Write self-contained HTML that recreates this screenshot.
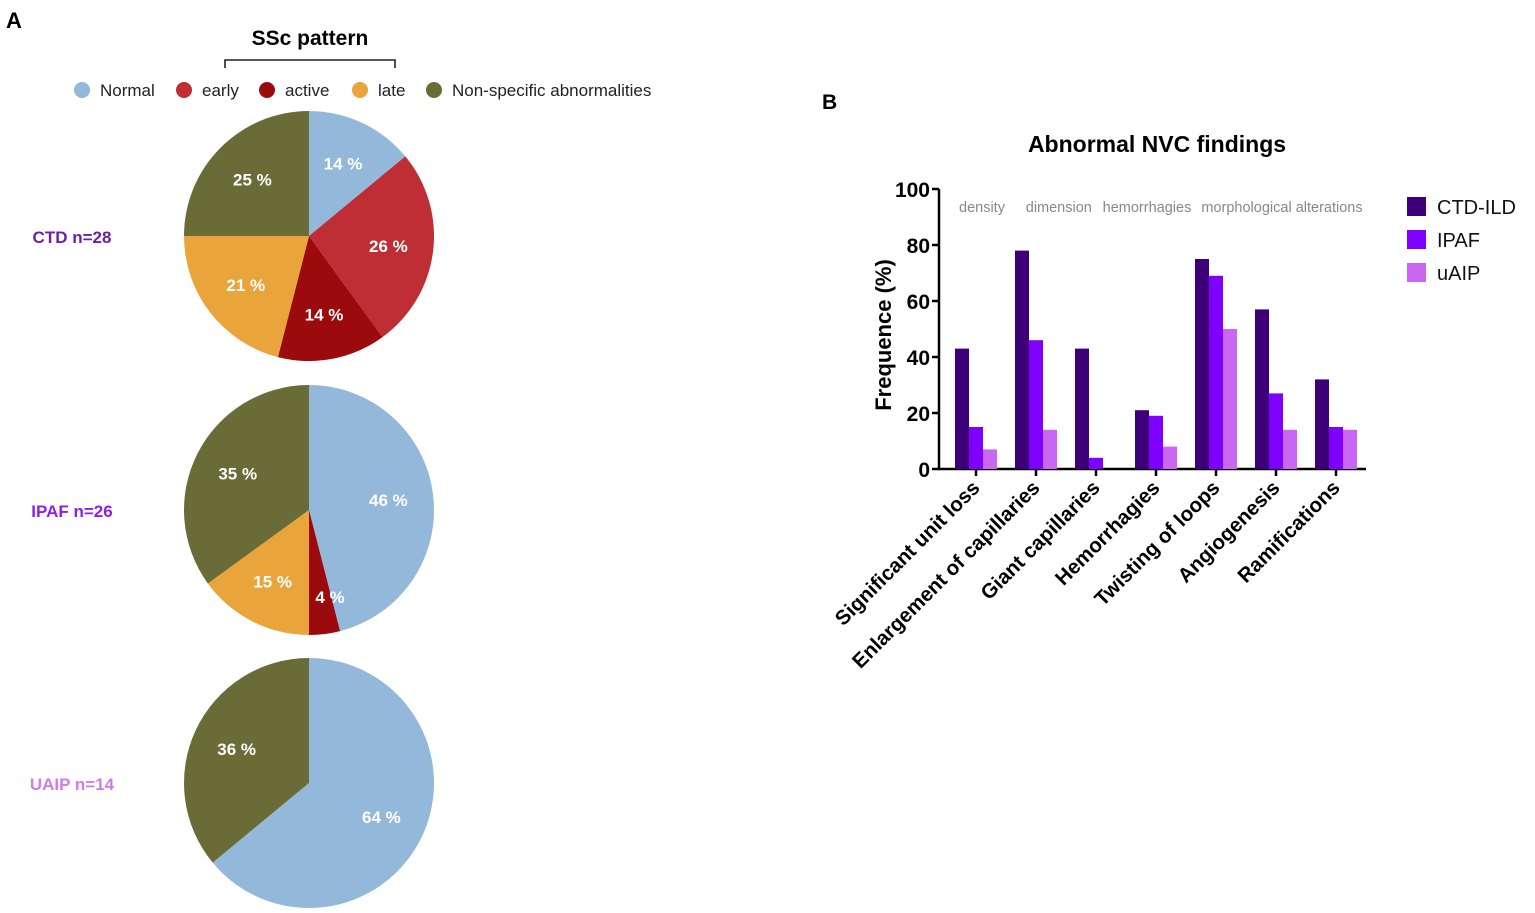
<!DOCTYPE html>
<html><head><meta charset="utf-8"><style>
html,body{margin:0;padding:0;background:#fff;}
svg{display:block;font-family:"Liberation Sans",Arial,sans-serif;}
</style></head><body>
<svg id="fig" width="1535" height="913" viewBox="0 0 1535 913">
<text x="6" y="28" font-size="22" font-weight="bold">A</text>
<text x="310" y="45" font-size="21" font-weight="bold" text-anchor="middle">SSc pattern</text>
<path d="M225,68 V60 H395 V68" fill="none" stroke="#222" stroke-width="1.6"/>
<g id="pieLegend"></g>
<g id="pies"></g>
<text x="822" y="109" font-size="21" font-weight="bold">B</text>
<text x="1157" y="152" font-size="23" font-weight="bold" text-anchor="middle">Abnormal NVC findings</text>
<g id="bars"></g>
</svg>
<script>
const NS="http://www.w3.org/2000/svg";
function mk(tag,attrs,parent,text){const e=document.createElementNS(NS,tag);for(const k in attrs)e.setAttribute(k,attrs[k]);if(text!==undefined)e.textContent=text;parent.appendChild(e);return e;}

// Pie data
const pieCategories=["Normal","early","active","late","Non-specific abnormalities"];
const pieColors=["#93b8d9","#bf2e34","#9b0b0d","#e9a43c","#6a6c38"];
const pieGroups=["CTD n=28","IPAF n=26","UAIP n=14"];
const pieGroupColors=["#6a1fb0","#8a1ff0","#d27ae8"];
const ctdValues=[14,26,14,21,25];
const ipafValues=[46,0,4,15,35];
const uaipValues=[64,0,0,0,36];
const pieSeries=[ctdValues,ipafValues,uaipValues];

// Bar data
const barCategories=["Significant unit loss","Enlargement of capillaries","Giant capillaries","Hemorrhagies","Twisting of loops","Angiogenesis","Ramifications"];
const seriesNames=["CTD-ILD","IPAF","uAIP"];
const seriesColors=["#3e0078","#8000ff","#c966f2"];
const ctdIld=[43,78,43,21,75,57,32];
const ipaf=[15,46,4,19,69,27,15];
const uaip=[7,14,0,8,50,14,14];
const yTicks=[0,20,40,60,80,100];
const groupLabels=["density","dimension","hemorrhagies","morphological alterations"];
const groupLabelCats=[0.1,1.38,2.85,5.1];

// Pie legend
const lg=document.getElementById("pieLegend");
const legX=[82,184,267,360,434];
pieCategories.forEach((c,i)=>{
  const d=mk("circle",{cx:legX[i],cy:90,r:8,fill:pieColors[i]},lg);
  
  
  const t=mk("text",{x:legX[i]+18,y:96,"font-size":17,fill:"#222"},lg,c);
  
  
});

// Pies
const pg=document.getElementById("pies");
const pcx=309,pcys=[236,510,783],R=125;
pieSeries.forEach((vals,gi)=>{
  const cy=pcys[gi];
  const tot=vals.reduce((a,b)=>a+b,0);
  let a0=0;
  const gl=mk("text",{x:72,y:cy+7,"font-size":17,"font-weight":"bold",fill:pieGroupColors[gi],"text-anchor":"middle"},pg,pieGroups[gi]);
  
  
  vals.forEach((v,i)=>{
    if(v<=0)return;
    const a1=a0+v/tot*2*Math.PI;
    const x0=pcx+R*Math.sin(a0),y0=cy-R*Math.cos(a0),x1=pcx+R*Math.sin(a1),y1=cy-R*Math.cos(a1);
    const large=(a1-a0)>Math.PI?1:0;
    const p=mk("path",{d:`M${pcx},${cy} L${x0},${y0} A${R},${R} 0 ${large} 1 ${x1},${y1} Z`,fill:pieColors[i]},pg);
    
    
    const am=(a0+a1)/2, lr=R*(v<6?0.7:0.64);
    const t=mk("text",{x:pcx+lr*Math.sin(am)+(v<6?10:0),y:cy-lr*Math.cos(am)+6,"font-size":17,"font-weight":"bold",fill:"#fff","text-anchor":"middle"},pg,v+" %");
    
    
    a0=a1;
  });
});

// Bar chart
const bg=document.getElementById("bars");
const x0=939,x1=1366,yBase=469,yTop=189;
const yScale=v=>yBase-(v/100)*(yBase-yTop);
const catX=i=>976+i*60;
const bw=14;
let ax=mk("line",{x1:x0,y1:yTop,x2:x0,y2:yBase,stroke:"#000","stroke-width":2.5},bg);

ax=mk("line",{x1:x0,y1:yBase,x2:x1,y2:yBase,stroke:"#000","stroke-width":2.5},bg);

yTicks.forEach(v=>{
  const y=yScale(v);
  const l=mk("line",{x1:x0-7,y1:y,x2:x0,y2:y,stroke:"#000","stroke-width":2.5},bg);
  
  const t=mk("text",{x:x0-9,y:y+8,"font-size":21,"font-weight":"bold","text-anchor":"end"},bg,v);
  
});
const yt=mk("text",{transform:`translate(891,${(yBase+yTop)/2+6}) rotate(-90)`,"font-size":22,"font-weight":"bold","text-anchor":"middle"},bg,"Frequence (%)");

const series=[ctdIld,ipaf,uaip];
barCategories.forEach((c,i)=>{
  const cx=catX(i);
  const tk=mk("line",{x1:cx,y1:yBase,x2:cx,y2:yBase+7,stroke:"#000","stroke-width":2.5},bg);
  
  series.forEach((s,si)=>{
    const v=s[i]; if(v<=0)return;
    const r=mk("rect",{x:cx-21+si*bw,y:yScale(v),width:bw,height:yBase-yScale(v),fill:seriesColors[si]},bg);
    
    
  });
  const t=mk("text",{transform:`translate(${cx+5},${yBase+20}) rotate(-45)`,"font-size":20.5,"font-weight":"bold","text-anchor":"end"},bg,c);
  
});
groupLabels.forEach((g,i)=>{
  const t=mk("text",{x:catX(groupLabelCats[i]),y:212,"font-size":14.5,fill:"#888","text-anchor":"middle"},bg,g);
  
});
seriesNames.forEach((n,i)=>{
  const y=207+i*33;
  const r=mk("rect",{x:1407,y:y-10,width:19,height:19,fill:seriesColors[i]},bg);
  
  const t=mk("text",{x:1437,y:y+7,"font-size":20,fill:"#111"},bg,n);
  
});
</script>
</body></html>
